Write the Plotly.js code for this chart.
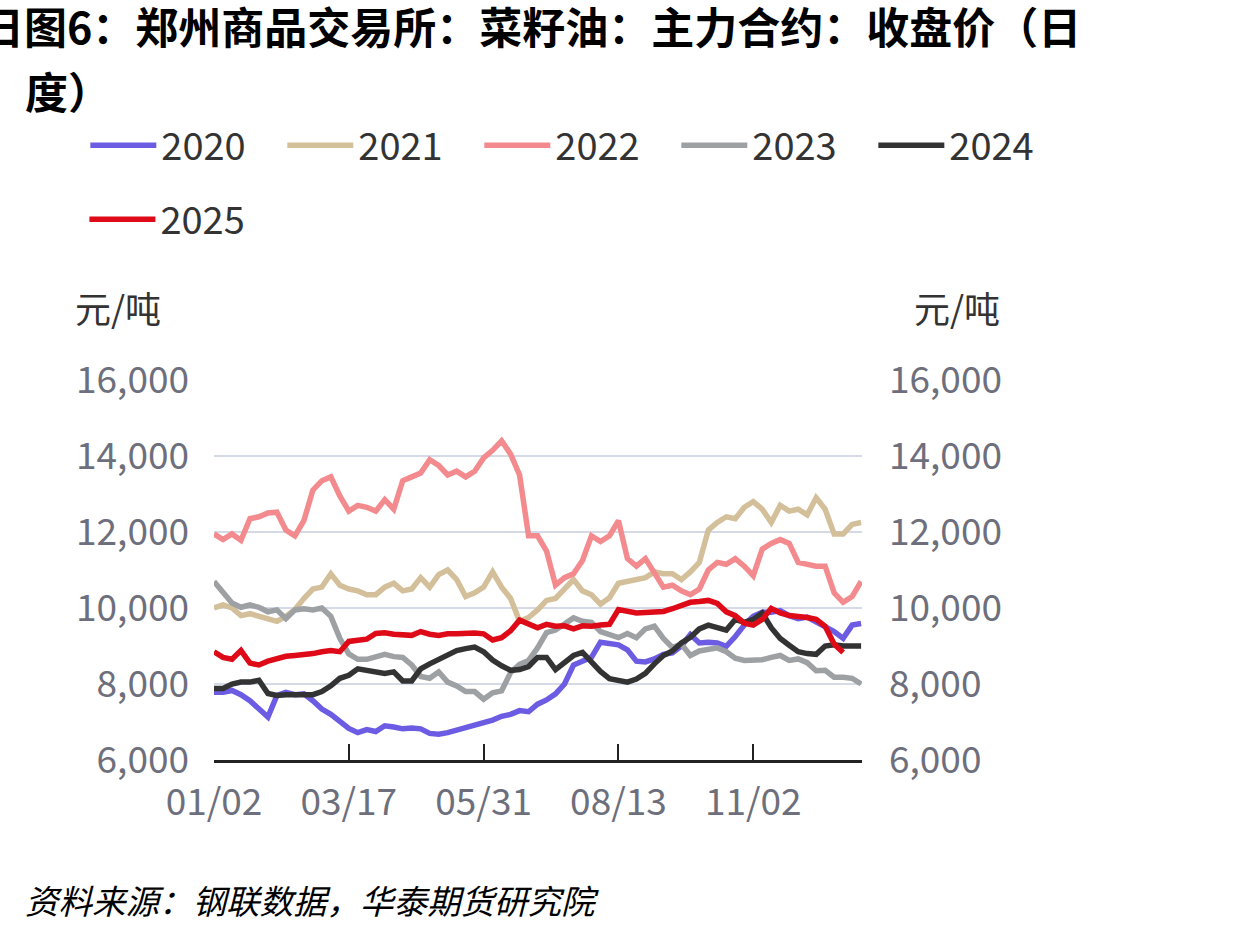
<!DOCTYPE html>
<html>
<head>
<meta charset="utf-8">
<script src="https://cdn.plot.ly/plotly-3.0.1.min.js"></script>
<style>
  html, body { margin: 0; padding: 0; background: #ffffff; }
  #chart { width: 1240px; height: 931px; }
</style>
</head>
<body>
<div id="chart"></div>
<script>
// Sample positions along the year axis (index units, tick every 75)
const sampleCount = 73;
const sampleStep = 5;

const tickValues = [0, 75, 150, 225, 300, 360];
const tickLabels = ["01/02", "03/17", "05/31", "08/13", "11/02", ""];
const yTicks = [6000, 8000, 10000, 12000, 14000, 16000];
const yTickLabels = ["6,000", "8,000", "10,000", "12,000", "14,000", "16,000"];

const seriesNames = ["2020", "2021", "2022", "2023", "2024", "2025"];

const v2020 = [7780,7780,7830,7720,7560,7350,7130,7700,7780,7720,7740,7560,7340,7200,7020,6830,6720,6800,
  6750,6900,6870,6820,6840,6820,6700,6680,6720,6780,6850,6900,6980,7050,7150,7200,7300,7270,
  7470,7580,7740,8000,8500,8600,8700,9100,9050,9030,8900,8600,8580,8660,8780,8820,9000,9300,9080,
  9100,9080,8990,9250,9550,9780,9890,9890,9930,9800,9720,9760,9640,9520,9380,9200,9550,9590];

const v2021 = [10000,10080,10000,9800,9850,9780,9700,9650,9780,9960,10250,10500,10550,10900,10600,10500,10450,10350,
  10350,10550,10650,10450,10500,10800,10550,10880,11000,10750,10300,10400,10550,10950,10550,10250,9650,9750,
  9950,10200,10250,10500,10750,10450,10350,10100,10270,10650,10700,10750,10800,10950,10900,10900,10750,10950,11200,
  12050,12250,12400,12350,12650,12800,12600,12250,12700,12550,12600,12450,12900,12600,11950,11950,12200,12250];

const v2022 = [11950,11800,11950,11780,12350,12400,12500,12520,12050,11900,12300,13100,13350,13450,12950,12550,12700,12650,
  12550,12850,12600,13350,13450,13550,13900,13750,13500,13600,13450,13600,13950,14150,14400,14050,13500,11900,
  11900,11500,10600,10800,10900,11250,11900,11750,11900,12300,11300,11100,11300,10900,10550,10600,10450,10350,10500,
  11000,11200,11150,11300,11100,10850,11550,11700,11800,11700,11200,11150,11100,11100,10400,10150,10300,10700];

const v2023 = [10700,10400,10130,10020,10080,10020,9900,9950,9720,9950,9980,9950,10000,9780,9200,8790,8650,8650,
  8700,8780,8720,8700,8500,8200,8150,8320,8050,7950,7800,7800,7600,7770,7820,8300,8520,8620,
  8950,9350,9420,9580,9740,9650,9620,9380,9300,9220,9330,9220,9450,9520,9200,8960,9050,8750,8870,
  8900,8950,8850,8680,8620,8620,8640,8700,8750,8620,8660,8560,8350,8360,8180,8180,8150,8000];

const v2024 = [7880,7880,8000,8050,8050,8100,7750,7700,7720,7720,7750,7720,7800,7950,8150,8230,8400,8350,
  8300,8280,8320,8080,8080,8400,8530,8650,8750,8880,8930,8970,8850,8630,8480,8360,8380,8460,
  8700,8700,8380,8560,8750,8830,8580,8330,8140,8080,8050,8130,8280,8530,8750,8870,9080,9230,9450,
  9550,9500,9420,9700,9620,9700,9870,9480,9200,9020,8850,8800,8780,9000,9030,9000,9000,9000];

const v2025 = [8850,8700,8650,8880,8550,8500,8600,8680,8730,8750,8770,8800,8850,8880,8850,9120,9150,9180,
  9330,9350,9310,9300,9280,9380,9310,9280,9320,9320,9340,9340,9320,9160,9220,9400,9680,9580,
  9480,9570,9520,9530,9450,9530,9520,9550,9570,9960,9900,9870,9880,9900,9910,9980,10050,10150,10170,
  10200,10120,9900,9800,9600,9550,9700,9990,9870,9800,9790,9750,9700,9520,9050,8830];

const seriesValues = [v2020, v2021, v2022, v2023, v2024, v2025];
const seriesColors = ["#6c5ce3", "#d3bf9a", "#f38a8e", "#9ea1a4", "#333333", "#de0a18"];

const xIdx = Array.from({length: sampleCount}, (_, i) => i * sampleStep);

const traces = seriesNames.map((name, k) => ({
  type: "scatter",
  mode: "lines",
  name: name,
  x: xIdx.slice(0, seriesValues[k].length),
  y: seriesValues[k],
  line: {color: seriesColors[k], width: 5.5},
  legend: k < 5 ? "legend" : "legend2",
  hoverinfo: "skip"
}));

// empty helper trace so the right-hand value axis is drawn
traces.push({
  type: "scatter", mode: "lines", x: [], y: [], yaxis: "y2",
  showlegend: false, hoverinfo: "skip"
});

const tickFont = {family: "Noto Sans CJK SC, Noto Sans, sans-serif", size: 37, color: "#6e6f7c"};
const legendFont = {family: "Noto Sans CJK SC, Noto Sans, sans-serif", size: 38, color: "#333333"};

const layout = {
  width: 1240,
  height: 931,
  paper_bgcolor: "#ffffff",
  plot_bgcolor: "#ffffff",
  margin: {l: 213.5, r: 377.6, t: 380, b: 171, pad: 0},
  showlegend: true,
  xaxis: {
    range: [0, 360.5],
    tickmode: "array",
    tickvals: tickValues,
    ticktext: tickLabels,
    ticks: "inside",
    ticklen: 16,
    tickwidth: 2,
    tickcolor: "#222222",
    showline: true,
    linecolor: "#222222",
    linewidth: 2.5,
    showgrid: false,
    zeroline: false,
    tickfont: tickFont,
    ticklabelstandoff: 8,
    fixedrange: true
  },
  yaxis: {
    range: [6000, 16000],
    tickmode: "array",
    tickvals: yTicks,
    ticktext: yTickLabels,
    ticks: "",
    showline: false,
    showgrid: true,
    gridcolor: "#d5dae6",
    gridwidth: 2,
    zeroline: false,
    tickfont: tickFont,
    ticklabelstandoff: 24,
    fixedrange: true
  },
  yaxis2: {
    overlaying: "y",
    anchor: "x",
    side: "right",
    range: [6000, 16000],
    tickmode: "array",
    tickvals: yTicks,
    ticktext: yTickLabels,
    ticks: "",
    showline: false,
    showgrid: false,
    zeroline: false,
    tickfont: tickFont,
    ticklabelstandoff: 26,
    fixedrange: true
  },
  legend: {
    orientation: "h",
    x: 1.3215, xanchor: "right",
    y: 1.70, yanchor: "top",
    font: legendFont,
    entrywidth: 116, entrywidthmode: "pixels",
    itemwidth: 66,
    bgcolor: "rgba(0,0,0,0)",
    tracegroupgap: 0
  },
  legend2: {
    orientation: "h",
    x: -0.2, xanchor: "left",
    y: 1.505, yanchor: "top",
    font: legendFont,
    entrywidth: 116, entrywidthmode: "pixels",
    itemwidth: 66,
    bgcolor: "rgba(0,0,0,0)"
  },
  annotations: [
    {text: "<b>日图6：郑州商品交易所：菜籽油：主力合约：收盘价（日</b>", xref: "paper", yref: "paper",
     x: -0.363, xanchor: "left", y: 1.934, yanchor: "middle", showarrow: false,
     font: {family: "Noto Sans CJK SC, sans-serif", size: 43, color: "#000000"}},
    {text: "<b>度）</b>", xref: "paper", yref: "paper",
     x: -0.295, xanchor: "left", y: 1.763, yanchor: "middle", showarrow: false,
     font: {family: "Noto Sans CJK SC, sans-serif", size: 43, color: "#000000"}},
    {text: "元/吨", xref: "paper", yref: "paper",
     x: -0.218, xanchor: "left", y: 1.192, yanchor: "middle", showarrow: false,
     font: {family: "Noto Sans CJK SC, sans-serif", size: 36, color: "#333333"}},
    {text: "元/吨", xref: "paper", yref: "paper",
     x: 1.0764, xanchor: "left", y: 1.192, yanchor: "middle", showarrow: false,
     font: {family: "Noto Sans CJK SC, sans-serif", size: 36, color: "#333333"}},
    {text: "资料来源：钢联数据，华泰期货研究院", xref: "paper", yref: "paper",
     x: -0.295, xanchor: "left", y: -0.368, yanchor: "middle", showarrow: false,
     font: {family: "Noto Sans CJK SC, sans-serif", size: 33.5, color: "#000000", style: "italic"}}
  ]
};

Plotly.newPlot("chart", traces, layout, {staticPlot: true, displayModeBar: false});
</script>
</body>
</html>
